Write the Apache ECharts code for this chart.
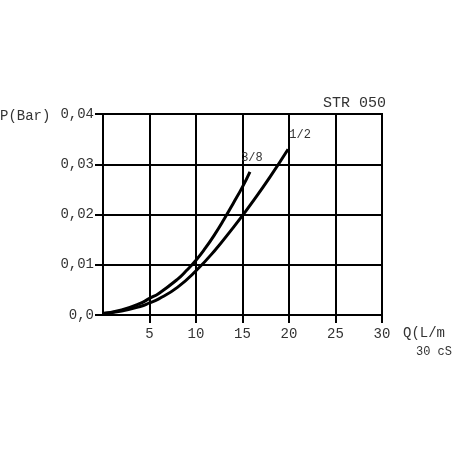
<!DOCTYPE html>
<html>
<head>
<meta charset="utf-8">
<script src="https://cdn.jsdelivr.net/npm/echarts@6/dist/echarts.min.js"></script>
<style>
html,body{margin:0;padding:0;background:#fff;}
#c{width:452px;height:452px;}
</style>
</head>
<body>
<div id="c"></div>
<script>
// Data
var xTicks = [0, 5, 10, 15, 20, 25, 30];
var yTicks = [0, 0.01, 0.02, 0.03, 0.04];
var q38 = [0, 2, 4, 5, 6, 8, 9, 10, 11, 12, 13, 14, 15, 15.8];
var p38 = [0.0003, 0.0010, 0.0023, 0.0033, 0.0043, 0.0071, 0.0089, 0.0109, 0.0133, 0.0160, 0.0190, 0.0222, 0.0255, 0.0285];
var q12 = [0, 2, 4, 5, 6, 8, 10, 12, 14, 15, 16, 18, 19.9];
var p12 = [0.0003, 0.0008, 0.0017, 0.0024, 0.0032, 0.0055, 0.0088, 0.0128, 0.0174, 0.0198, 0.0223, 0.0276, 0.0330];
var seriesNames = ['3/8', '1/2'];

var FONT = '"Liberation Mono", "DejaVu Sans Mono", monospace';
var TXT = '#333';

function zip(qs, ps) {
  return qs.map(function (q, i) { return [q, ps[i]]; });
}
function endMark(qs, ps, name, off) {
  var n = qs.length - 1;
  return {
    symbol: 'circle', symbolSize: 0, silent: true,
    label: { show: true, position: 'top', distance: 5, offset: off, formatter: name,
             color: TXT, fontFamily: FONT, fontSize: 12 },
    data: [{ coord: [qs[n], ps[n]] }]
  };
}

var chart = echarts.init(document.getElementById('c'), null, { renderer: 'canvas' });
chart.setOption({
  animation: false,
  backgroundColor: '#fff',
  grid: {
    left: 103, top: 114, width: 279, height: 201,
    show: true, borderColor: '#000', borderWidth: 2, backgroundColor: 'transparent'
  },
  xAxis: {
    type: 'value', min: 0, max: 30, interval: 5,
    axisLine: { show: true, lineStyle: { color: '#000', width: 2 } },
    axisTick: { show: true, inside: false, length: 8, lineStyle: { color: '#000', width: 2 } },
    splitLine: { show: true, lineStyle: { color: '#000', width: 2 } },
    axisLabel: {
      show: true, margin: 12, color: TXT, fontFamily: FONT, fontSize: 14,
      showMinLabel: false,
      formatter: function (v) { return String(v); }
    }
  },
  yAxis: {
    type: 'value', min: 0, max: 0.04, interval: 0.01,
    axisLine: { show: true, lineStyle: { color: '#000', width: 2 } },
    axisTick: { show: true, inside: false, length: 8, lineStyle: { color: '#000', width: 2 } },
    splitLine: { show: true, lineStyle: { color: '#000', width: 2 } },
    axisLabel: {
      show: true, margin: 9, color: TXT, fontFamily: FONT, fontSize: 14,
      formatter: function (v) {
        if (v === 0) return '0,0';
        return v.toFixed(2).replace('.', ',');
      }
    }
  },
  graphic: [
    { type: 'text', left: 0, top: 109, style: { text: 'P(Bar)', fill: TXT, font: '14px ' + FONT } },
    { type: 'text', left: 323, top: 96, style: { text: 'STR 050', fill: TXT, font: '15px ' + FONT } },
    { type: 'text', left: 403, top: 326, style: { text: 'Q(L/m', fill: TXT, font: '14px ' + FONT } },
    { type: 'text', left: 416, top: 346, style: { text: '30 cS', fill: TXT, font: '12px ' + FONT } }
  ],
  series: [
    {
      name: seriesNames[0], type: 'line', smooth: true, showSymbol: false, symbol: 'none',
      lineStyle: { color: '#000', width: 3 },
      data: zip(q38, p38),
      markPoint: endMark(q38, p38, seriesNames[0], [2, -3])
    },
    {
      name: seriesNames[1], type: 'line', smooth: true, showSymbol: false, symbol: 'none',
      lineStyle: { color: '#000', width: 3 },
      data: zip(q12, p12),
      markPoint: endMark(q12, p12, seriesNames[1], [12, -3])
    }
  ]
});
</script>
</body>
</html>
